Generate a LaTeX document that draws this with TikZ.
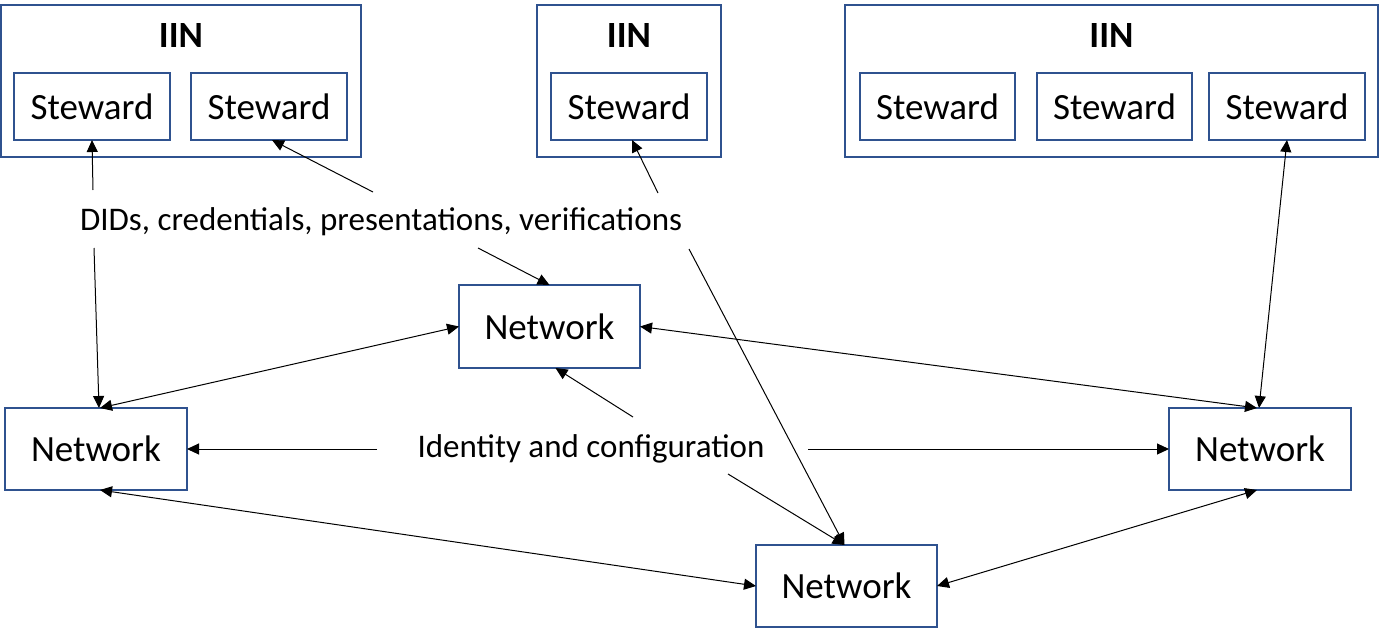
\documentclass[tikz,border=0pt]{standalone}
\usepackage{fontspec}
\setmainfont{Carlito}
\usetikzlibrary{arrows.meta}
\definecolor{boxblue}{HTML}{2F528F}
\begin{document}
\begin{tikzpicture}[x=1pt,y=-1pt,
  box/.style={draw=boxblue, line width=2pt, inner sep=0pt, outer sep=0pt, fill=white,
              font=\fontsize{37}{44}\selectfont},
  stew/.style={box, minimum width=156pt, minimum height=67pt},
  netw/.style={box, minimum width=182pt, minimum height=83pt},
  cont/.style={box, minimum height=152pt},
  ttl/.style={inner sep=0pt, anchor=base, font=\fontsize{37}{44}\selectfont\bfseries},
  lbl/.style={inner sep=0pt, anchor=base, font=\fontsize{33}{40}\selectfont},
  arr/.style={-{Triangle[length=12pt,width=11pt]}, line width=1pt},
  biarr/.style={{Triangle[length=12pt,width=11pt]}-{Triangle[length=12pt,width=11pt]}, line width=1pt}]
\useasboundingbox (0,0) rectangle (1381,632);
\fill[white] (0,0) rectangle (1381,632);

% containers
\node[cont, minimum width=360pt] (iin1) at (181,81) {};
\node[cont, minimum width=184pt] (iin2) at (629,81) {};
\node[cont, minimum width=533pt] (iin3) at (1111.5,81) {};
\node[ttl] (t1) at (181,47) {IIN};
\node[ttl] (t2) at (629,47) {IIN};
\node[ttl] (t3) at (1111.5,47) {IIN};

% stewards
\node[stew] (s1) at (92,106.5) {Steward};
\node[stew] (s2) at (269,106.5) {Steward};
\node[stew] (s3) at (629,106.5) {Steward};
\node[stew, minimum width=155pt] (s4) at (937.5,106.5) {Steward};
\node[stew, minimum width=155pt] (s5) at (1114.5,106.5) {Steward};
\node[stew] (s6) at (1287,106.5) {Steward};

% networks
\node[netw, minimum width=181pt] (nt) at (549.5,326.5) {Network};
\node[netw, minimum height=82pt] (nl) at (96,449) {Network};
\node[netw, minimum height=82pt] (nr) at (1260,449) {Network};
\node[netw, minimum width=181pt, minimum height=82pt] (nb) at (846.5,586) {Network};

% labels
\node[lbl] (dids) at (381,230) {DIDs, credentials, presentations, verifications};
\node[lbl] (ident) at (591,457) {Identity and configuration};

% free ends near labels
\coordinate (d1a) at (93,190);
\coordinate (d1b) at (94,248);
\coordinate (d2) at (373,192);
\coordinate (d3) at (658,193);
\coordinate (d4) at (478,248);
\coordinate (d5) at (689,249);
\coordinate (i1) at (377,449);
\coordinate (i2) at (808,449);
\coordinate (i3) at (633,417);
\coordinate (i4) at (728,474);

% DIDs arrows
\draw[arr] (d1a) -- (s1.south);
\draw[arr] (d1b) -- ([xshift=3pt]nl.north);
\draw[arr] (d2) -- ([xshift=3pt]s2.south);
\draw[arr] (d3) -- ([xshift=3pt]s3.south);
\draw[arr] (d4) -- (nt.north);
\draw[arr] (d5) -- ([xshift=-2pt]nb.north);

% identity arrows
\draw[arr] (i1) -- (nl.east);
\draw[arr] (i2) -- (nr.west);
\draw[arr] (i3) -- ([xshift=6pt]nt.south);
\draw[arr] (i4) -- ([xshift=-2pt]nb.north);

% network links
\draw[biarr] (nt.west) -- ([xshift=4pt]nl.north);
\draw[biarr] (nt.east) -- ([xshift=-3pt]nr.north);
\draw[biarr] ([xshift=4pt]nl.south) -- (nb.west);
\draw[biarr] (nb.east) -- ([xshift=-3pt]nr.south);
\draw[biarr] (s6.south) -- ([xshift=-1pt]nr.north);
\end{tikzpicture}
\end{document}
